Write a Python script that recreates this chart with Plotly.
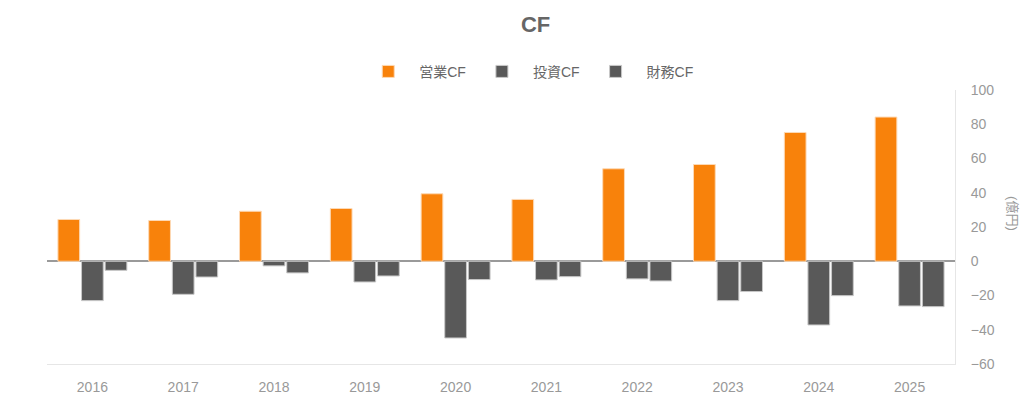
import plotly.graph_objects as go

years = ["2016", "2017", "2018", "2019", "2020", "2021", "2022", "2023", "2024", "2025"]
operating_cf = [24.4, 23.8, 29.2, 30.8, 39.4, 36.1, 54.0, 56.5, 75.2, 84.2]
investing_cf = [-23.0, -19.3, -2.7, -12.1, -44.8, -10.9, -10.3, -23.0, -37.2, -26.1]
financing_cf = [-5.3, -9.2, -6.8, -8.6, -10.7, -9.0, -11.5, -17.7, -20.1, -26.5]
series_names = ["営業CF", "投資CF", "財務CF"]
y_ticks = [-60, -40, -20, 0, 20, 40, 60, 80, 100]

FONT = "Liberation Sans, Arial, Noto Sans CJK JP, sans-serif"
ORANGE = "#f8820b"
GRAY = "#595959"

fig = go.Figure()
for name, vals, color, lc in [
    (series_names[0], operating_cf, ORANGE, "#fdd9b5"),
    (series_names[1], investing_cf, GRAY, "#c8c8c8"),
    (series_names[2], financing_cf, GRAY, "#c8c8c8"),
]:
    fig.add_trace(go.Bar(x=years, y=vals, name=name,
                         marker=dict(color=color, line=dict(color=lc, width=1))))

fig.update_layout(
    width=1024, height=399,
    paper_bgcolor="white", plot_bgcolor="white",
    margin=dict(l=47, r=69, t=90, b=35, autoexpand=False),
    barmode="group", bargap=0.22, bargroupgap=0.08,
    font=dict(family=FONT, color="#999", size=13),
    title=dict(text="<b>CF</b>", x=0.523, xanchor="center", yref="container",
               y=0.94, yanchor="middle",
               font=dict(size=22, color="#666", family=FONT)),
    legend=dict(orientation="h", x=0.53, xanchor="center", yref="container",
                y=0.82, yanchor="middle", font=dict(size=14, color="#666"),
                itemwidth=52, traceorder="normal"),
    xaxis=dict(showgrid=False, showline=True, linecolor="#e6e6e6", linewidth=1,
               ticks="", tickfont=dict(size=14, color="#999"), ticklabelstandoff=10),
    yaxis=dict(side="right", range=[-60, 100], tickvals=y_ticks, showgrid=False,
               showline=True, linecolor="#e6e6e6", linewidth=1,
               zeroline=True, zerolinecolor="#9a9a9a", zerolinewidth=1.5,
               tickfont=dict(size=14, color="#999"), ticklabelstandoff=12),
    annotations=[dict(text="(億円)", xref="paper", yref="paper", x=1.063, y=0.55,
                      xanchor="center", yanchor="middle",
                      showarrow=False, textangle=90,
                      font=dict(size=13, color="#999", family=FONT))],
)

fig.write_html("out.html", config={"displayModeBar": False},
               post_script="document.body.style.margin='0';")
